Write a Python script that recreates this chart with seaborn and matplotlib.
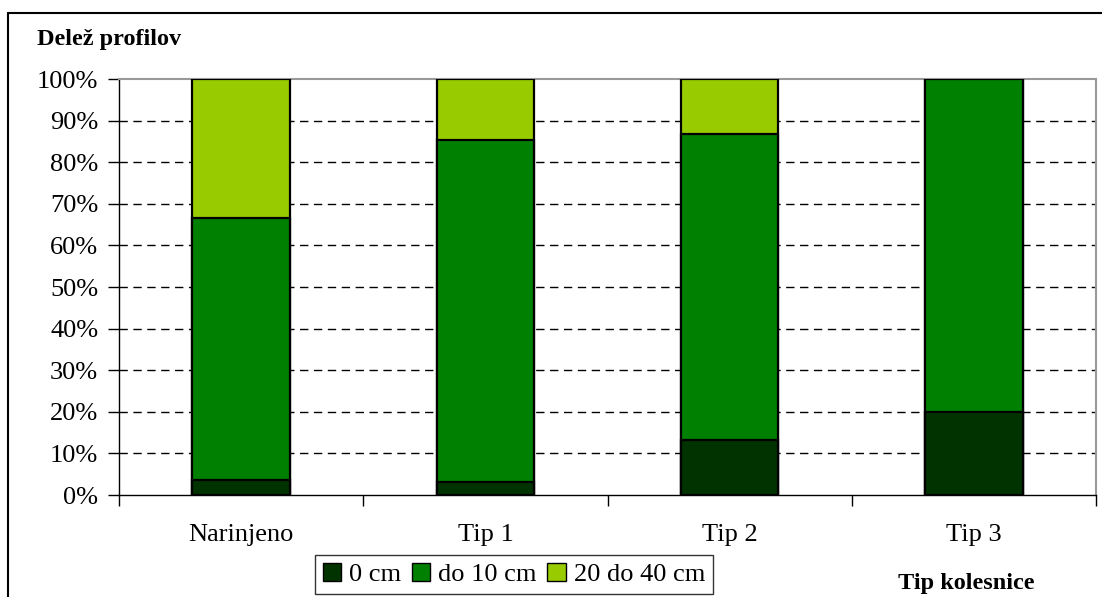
import matplotlib
matplotlib.use("Agg")
import matplotlib.pyplot as plt
from matplotlib.patches import Patch
from matplotlib.lines import Line2D
import numpy as np
import pandas as pd
import seaborn as sns

# Share of profiles by rut depth, per wheel type
categories = ["Narinjeno", "Tip 1", "Tip 2", "Tip 3"]
depth_0 = [3.7, 3.2, 13.3, 20.0]
depth_10 = [63.0, 82.1, 73.4, 80.0]
depth_40 = [33.3, 14.7, 13.3, 0.0]
series_names = ["0 cm", "do 10 cm", "20 do 40 cm"]
colors = ["#003300", "#008000", "#99CC00"]
y_ticks = [0, 10, 20, 30, 40, 50, 60, 70, 80, 90, 100]

sns.set_theme(style="white")
plt.rcParams["font.family"] = ["Liberation Serif", "DejaVu Serif"]
plt.rcParams.update({"text.color": "black", "axes.labelcolor": "black",
                     "xtick.color": "black", "ytick.color": "black"})

W, H = 1102, 597
fig = plt.figure(figsize=(W / 100, H / 100), dpi=100)
ax = fig.add_axes([119 / W, 1 - 495 / H, (1096 - 119) / W, (495 - 79) / H])

df = pd.DataFrame({"cat": categories, "d0": depth_0, "d10": depth_10, "d40": depth_40})
df["c0"] = df["d0"]
df["c1"] = df["d0"] + df["d10"]
df["c2"] = df["d0"] + df["d10"] + df["d40"]

# stack by overlaying cumulative totals, tallest first
for col, color in [("c2", colors[2]), ("c1", colors[1]), ("c0", colors[0])]:
    sns.barplot(data=df, x="cat", y=col, color=color, width=0.4, saturation=1,
                edgecolor="black", linewidth=1.6, ax=ax, zorder=3)

ax.set_xlim(-0.5, 3.5)
ax.set_ylim(0, 100)
ax.set_yticks(y_ticks)
ax.set_yticklabels([f"{v}%" for v in y_ticks], fontsize=19, color="black")
ax.set_xticks(range(len(categories)))
ax.set_xticklabels(categories, fontsize=19, color="black")
ax.set_xticks(np.arange(-0.5, 4.0, 1.0), minor=True)
ax.tick_params(axis="x", which="major", length=0, pad=21, bottom=True)
ax.tick_params(axis="x", which="minor", length=8, width=1, color="black", direction="out", bottom=True)
ax.tick_params(axis="y", length=8, width=1, color="black", direction="out", pad=7, left=True)
ax.set_xlabel("")
ax.set_ylabel("")

for v in y_ticks[1:-1]:
    ax.axhline(v, color="black", linestyle=(0, (6, 4)), linewidth=1, zorder=1)

for side in ["top", "right"]:
    ax.spines[side].set_color("#999999")
    ax.spines[side].set_linewidth(1.5)
for side in ["left", "bottom"]:
    ax.spines[side].set_color("black")
    ax.spines[side].set_linewidth(1)

fig.text(37 / W, 1 - 40 / H, "Delež profilov", fontsize=17.5, fontweight="bold", va="center", ha="left", color="black")
fig.text(898 / W, 1 - 583 / H, "Tip kolesnice", fontsize=17.5, fontweight="bold", va="center", ha="left", color="black")

handles = [Patch(facecolor=c, edgecolor="black", linewidth=1) for c in colors]
leg = fig.legend(handles, series_names, loc="upper left", bbox_to_anchor=(315 / W, 1 - 555 / H),
                 ncol=3, fontsize=19, frameon=True, fancybox=False, handlelength=0.7,
                 handleheight=0.7, handletextpad=0.3, columnspacing=0.4, borderpad=0.3,
                 borderaxespad=0)
leg.get_frame().set_edgecolor("black")
leg.get_frame().set_linewidth(1)
for t in leg.get_texts():
    t.set_color("black")

# outer chart border (top and left edges)
fig.add_artist(Line2D([8 / W, 1], [1 - 13 / H, 1 - 13 / H], transform=fig.transFigure, color="black", linewidth=1.5))
fig.add_artist(Line2D([8 / W, 8 / W], [0, 1 - 13 / H], transform=fig.transFigure, color="black", linewidth=1.5))

fig.savefig("out.png", dpi=100)
